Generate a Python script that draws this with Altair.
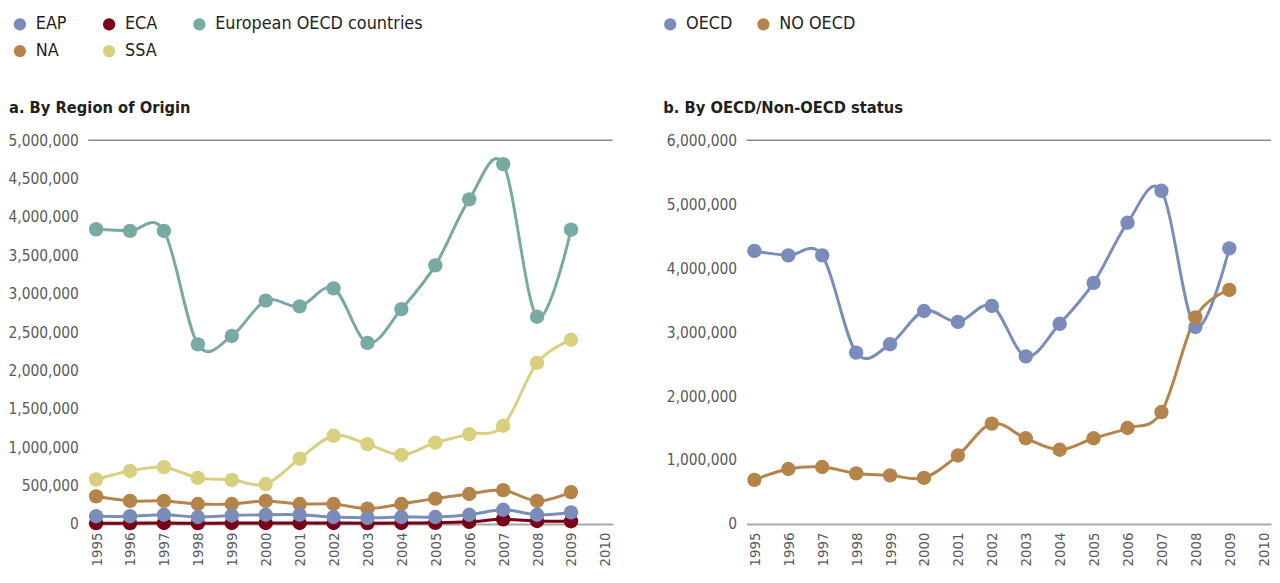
import altair as alt
import pandas as pd

FONT = "DejaVu Sans Condensed, Liberation Sans Narrow, sans-serif"

years = list(range(1995, 2010))
axis_years = list(range(1995, 2011))

# Panel a: by region of origin
eap = [100000, 100000, 120000, 90000, 110000, 120000, 120000, 90000, 80000, 90000, 90000, 120000, 185000, 120000, 150000]
eca = [10000, 10000, 12000, 10000, 12000, 12000, 12000, 12000, 10000, 12000, 15000, 28000, 60000, 38000, 35000]
european = [3840000, 3820000, 3820000, 2340000, 2450000, 2910000, 2835000, 3070000, 2360000, 2800000, 3370000, 4230000, 4690000, 2700000, 3835000]
na = [360000, 300000, 300000, 260000, 260000, 300000, 260000, 260000, 200000, 260000, 330000, 390000, 440000, 300000, 415000]
ssa = [580000, 690000, 740000, 600000, 575000, 520000, 850000, 1150000, 1040000, 900000, 1060000, 1170000, 1280000, 2100000, 2400000]

region_names = ["EAP", "ECA", "European OECD countries", "NA", "SSA"]
region_colors = ["#7b8cba", "#7a0019", "#78aaa3", "#b5844a", "#d8cf7f"]
region_values = {"EAP": eap, "ECA": eca, "European OECD countries": european, "NA": na, "SSA": ssa}
region_draw_order = ["SSA", "NA", "European OECD countries", "ECA", "EAP"]

# Panel b: by OECD / non-OECD status
oecd = [4270000, 4200000, 4200000, 2680000, 2810000, 3330000, 3160000, 3410000, 2620000, 3130000, 3770000, 4710000, 5210000, 3080000, 4310000]
no_oecd = [690000, 860000, 890000, 790000, 760000, 720000, 1070000, 1570000, 1340000, 1160000, 1340000, 1500000, 1750000, 3230000, 3660000]

status_names = ["OECD", "NO OECD"]
status_colors = ["#7b8cba", "#b5844a"]
status_values = {"OECD": oecd, "NO OECD": no_oecd}
status_draw_order = ["OECD", "NO OECD"]


def long_table(values, order):
    rows = []
    for name in order:
        for yr, v in zip(years, values[name]):
            rows.append({"year": yr, "value": v, "series": name})
    return pd.DataFrame(rows)


def panel(df, names, colors, ymax, ystep, title, title_x, legend):
    x = alt.X(
        "year:O",
        scale=alt.Scale(type="point", domain=axis_years, padding=0.23),
        axis=alt.Axis(
            title=None, labelAngle=270, ticks=False, labelPadding=8,
            domainColor="#a6a6a6", domainWidth=2, grid=False,
            labelFontSize=15, labelFont=FONT, labelColor="#595959",
        ),
    )
    y = alt.Y(
        "value:Q",
        scale=alt.Scale(domain=[0, ymax], nice=False, zero=True),
        axis=alt.Axis(
            title=None, values=list(range(0, ymax + 1, ystep)), format=",d",
            ticks=False, domain=False, grid=False, labelPadding=10,
            labelFontSize=15.5, labelFont=FONT, labelColor="#595959",
        ),
    )
    cscale = alt.Scale(domain=names, range=colors)
    color = alt.Color("series:N", scale=cscale, legend=legend)
    base = alt.Chart(df)
    lines = base.mark_line(interpolate="cardinal", strokeWidth=3).encode(x=x, y=y, color=color)
    points = base.mark_circle(size=210, opacity=1).encode(x=x, y=y, color=color)
    top_rule = alt.Chart(pd.DataFrame({"value": [ymax]})).mark_rule(
        color="#8c8c8c", strokeWidth=1.5
    ).encode(y=y)
    title_text = alt.Chart(pd.DataFrame({"t": [title]})).mark_text(
        align="left", baseline="alphabetic", fontSize=16.5, fontWeight="bold",
        font=FONT, color="#231f20",
    ).encode(x=alt.value(title_x), y=alt.value(-28), text="t:N")
    return alt.layer(top_rule, lines, points, title_text).properties(width=529, height=387)


def make_legend(lx, cols, colpad):
    return alt.Legend(
        title=None, orient="none", legendX=lx, legendY=-126, direction="horizontal",
        columns=cols, columnPadding=colpad, rowPadding=9, labelFontSize=18, labelFont=FONT,
        labelColor="#231f20", symbolType="circle", symbolSize=154, symbolStrokeWidth=0,
        labelOffset=7, labelLimit=400,
    )


pa = panel(long_table(region_values, region_draw_order), region_names, region_colors,
           5000000, 500000, "a. By Region of Origin", -80, make_legend(-78, 3, 33))
pb = panel(long_table(status_values, status_draw_order), status_names, status_colors,
           6000000, 1000000, "b. By OECD/Non-OECD status", -84, make_legend(-86, 2, 22))

chart = alt.hconcat(pa, pb, spacing=48).resolve_scale(
    color="independent", y="independent", x="independent"
).properties(
    padding={"left": 0, "top": 5, "right": 0, "bottom": 0}
).configure_view(strokeWidth=0)

chart.save("out.html", embed_options={"renderer": "svg", "actions": False})
